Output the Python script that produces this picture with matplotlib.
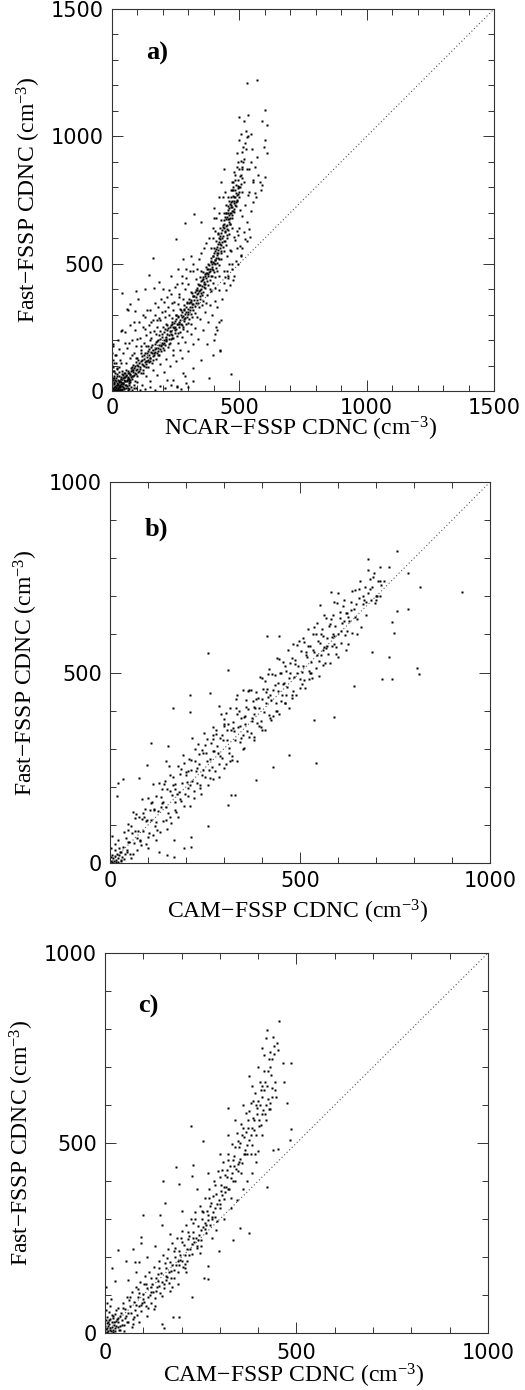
import numpy as np
import matplotlib
matplotlib.use('Agg')
import matplotlib.pyplot as plt
from matplotlib.ticker import MultipleLocator

plt.rcParams['mathtext.fontset'] = 'custom'
plt.rcParams['mathtext.rm'] = 'Liberation Serif'
plt.rcParams['mathtext.default'] = 'rm'

# ---------------- panel a) NCAR-FSSP vs Fast-FSSP ----------------
a_blob = [(2, 3), (5, 12), (8, 4), (10, 20), (12, 8), (15, 15), (18, 2), (20, 30), (22, 10), (25, 22),
          (28, 5), (30, 40), (32, 14), (35, 28), (38, 8), (40, 18), (42, 50), (45, 33), (48, 12), (50, 25),
          (3, 45), (6, 60), (9, 28), (14, 38), (16, 52), (19, 22), (24, 44), (27, 60), (31, 2), (34, 55),
          (37, 35), (41, 4), (44, 62), (47, 42), (52, 55), (55, 10), (58, 38), (60, 20), (62, 48), (65, 30),
          (68, 8), (4, 80), (7, 35), (11, 70), (13, 1), (17, 10), (21, 65), (26, 15), (29, 75), (33, 24),
          (36, 3), (39, 68), (43, 26), (46, 6), (53, 70), (57, 58), (63, 2), (66, 72), (70, 45), (1, 22),
          (2, 150), (3, 120), (1, 100), (5, 186), (35, 237), (4, 175), (10, 140), (6, 110), (23, 5), (9, 50),
          (3, 8), (6, 30), (9, 15), (12, 45), (15, 3), (18, 58), (21, 24), (24, 12), (27, 36), (30, 20),
          (33, 8), (36, 48), (40, 30), (44, 14), (48, 70), (51, 40), (54, 22), (57, 82), (61, 12), (64, 55),
          (67, 25), (72, 36), (75, 16), (78, 48), (85, 25), (88, 10), (92, 40), (5, 95), (8, 78), (14, 110),
          (18, 88), (28, 95), (11, 5), (4, 52)]

a_core = [(61, 52), (64, 78), (67, 40), (71, 66), (73, 92), (77, 58), (79, 81), (83, 103), (86, 64), (87, 90),
          (91, 71), (94, 112), (96, 84), (99, 58), (101, 99), (104, 122), (106, 80), (109, 93), (113, 118), (114, 70),
          (117, 136), (121, 101), (123, 84), (126, 127), (129, 112), (131, 150), (134, 96), (137, 133), (139, 119), (143, 158),
          (146, 112), (147, 141), (151, 129), (153, 171), (156, 148), (159, 110), (161, 162), (163, 138), (167, 185), (169, 152),
          (171, 127), (174, 170), (177, 197), (179, 158), (183, 180), (186, 143), (187, 206), (191, 176), (193, 159), (196, 214),
          (199, 185), (201, 167), (204, 202), (206, 230), (209, 181), (211, 213), (214, 196), (217, 238), (219, 171), (223, 220),
          (224, 203), (227, 250), (229, 187), (233, 236), (236, 219), (237, 262), (241, 208), (243, 247), (246, 229), (249, 276),
          (252, 242), (254, 217), (257, 265), (259, 290), (263, 251), (266, 232), (267, 278), (271, 300), (274, 261), (276, 289),
          (279, 244), (281, 318), (284, 276), (287, 302), (289, 262), (292, 331), (296, 290), (297, 312), (301, 347), (303, 281),
          (306, 330), (309, 359), (311, 304), (314, 342), (317, 372), (319, 319), (323, 356), (326, 389), (327, 334), (331, 371),
          (334, 403), (336, 346), (339, 385), (341, 418), (344, 363), (347, 398), (349, 432), (352, 378), (355, 412), (357, 446),
          (359, 389), (362, 428), (366, 461), (367, 403), (371, 442), (373, 478), (376, 418), (379, 458), (381, 494), (383, 437),
          (386, 472), (389, 510), (391, 452), (394, 488), (397, 529), (399, 466), (402, 504), (404, 548), (407, 482), (409, 523),
          (412, 566), (414, 501), (417, 543), (419, 587), (421, 520), (424, 562), (426, 610), (428, 541), (431, 586), (433, 632),
          (436, 565), (437, 607), (441, 655), (443, 588), (445, 629), (447, 676), (450, 611), (452, 652), (454, 698), (457, 634),
          (459, 676), (461, 720), (463, 656), (466, 698), (468, 742), (471, 680), (473, 722), (476, 765), (479, 702), (481, 746),
          (484, 788), (487, 728), (489, 770), (492, 752), (494, 806), (497, 781), (463, 735), (472, 790), (456, 712), (444, 684),
          (434, 650), (423, 596), (411, 541), (396, 505), (381, 466), (365, 421), (348, 384), (332, 356), (316, 331), (298, 302),
          (282, 281), (264, 262), (247, 240), (231, 222), (213, 205), (197, 189), (181, 168), (164, 149), (148, 131), (132, 118),
          (116, 105), (98, 88), (81, 76), (69, 62), (455, 675), (448, 700), (466, 730), (478, 740), (485, 760), (470, 705),
          (458, 690), (440, 640), (427, 575), (418, 555), (405, 515), (392, 480), (377, 450), (361, 410), (344, 372), (328, 345)]

a_core2 = [(22, 28), (27, 41), (31, 19), (36, 47), (42, 31), (47, 55), (51, 38), (56, 62), (59, 44), (63, 71),
           (68, 49), (74, 77), (76, 54), (82, 83), (84, 60), (89, 97), (93, 66), (97, 104), (102, 75), (107, 111),
           (111, 86), (118, 122), (124, 98), (127, 141), (133, 107), (136, 150), (141, 122), (144, 166), (150, 118), (154, 153),
           (158, 179), (165, 141), (168, 166), (173, 192), (178, 150), (182, 200), (189, 165), (194, 181), (198, 222), (203, 188),
           (208, 242), (212, 201), (216, 225), (221, 248), (226, 234), (231, 261), (234, 209), (239, 253), (244, 268), (248, 251),
           (253, 283), (258, 262), (261, 295), (265, 270), (270, 262), (273, 310), (277, 294), (283, 323), (286, 286), (291, 312),
           (294, 345), (299, 324), (304, 360), (307, 318), (312, 351), (315, 385), (320, 343), (324, 372), (329, 398), (333, 380),
           (337, 420), (342, 393), (346, 447), (350, 401), (353, 437), (358, 466), (361, 420), (364, 452), (369, 488), (372, 431),
           (375, 462), (378, 500), (384, 481), (387, 452), (390, 523), (393, 498), (395, 476), (399, 541), (403, 516), (406, 497),
           (410, 556), (413, 535), (416, 579), (418, 524), (422, 600), (425, 578), (427, 551), (430, 622), (432, 600), (435, 644),
           (438, 588), (440, 672), (442, 625), (446, 648), (449, 700), (451, 636), (453, 682), (456, 725), (458, 664), (460, 745),
           (462, 700), (465, 680), (467, 760), (469, 724), (472, 748), (474, 705), (477, 788), (480, 760), (483, 732), (486, 810),
           (488, 778), (491, 745), (493, 830), (496, 798), (499, 760), (503, 845), (506, 812), (509, 880), (512, 835), (498, 870),
           (507, 905)]

# wider spread around the main band
a_band = [(80, 95), (120, 70), (95, 130), (140, 95), (112, 150), (160, 120), (135, 175), (182, 140), (150, 200), (205, 160),
          (172, 225), (225, 185), (190, 235), (230, 205), (212, 265), (258, 228), (236, 285), (278, 250), (252, 300), (298, 268),
          (268, 322), (315, 290), (283, 338), (326, 305), (305, 350), (342, 330), (318, 372), (358, 352), (332, 395), (372, 378),
          (345, 418), (385, 400), (356, 440), (396, 425), (368, 462), (405, 448), (378, 480), (350, 470), (388, 505), (412, 470),
          (395, 530), (422, 495), (402, 560), (430, 520), (410, 590), (438, 548), (417, 618), (446, 575), (424, 640), (452, 600),
          (398, 600), (405, 630), (460, 615), (470, 640), (430, 670), (462, 655), (440, 700), (470, 690), (448, 730), (480, 715),
          (456, 760), (488, 742), (466, 790), (495, 775), (476, 820), (502, 800), (485, 850), (512, 870), (520, 910), (492, 935),
          (515, 960), (500, 985), (528, 1020), (520, 1060), (545, 1010), (540, 870), (552, 820), (335, 292), (352, 338), (368, 344),
          (390, 391), (405, 404), (420, 452), (440, 471), (452, 531), (465, 552), (478, 603), (490, 628), (503, 712), (522, 731),
          (534, 768), (312, 262), (296, 235), (276, 212), (258, 190), (240, 160)]

a_upper = [(20, 90), (30, 120), (40, 80), (45, 150), (55, 110), (60, 170), (70, 130), (80, 200), (85, 150), (90, 240),
           (95, 175), (100, 130), (110, 210), (115, 160), (120, 250), (125, 190), (130, 290), (135, 220), (140, 175), (145, 260),
           (150, 320), (155, 210), (160, 280), (165, 235), (170, 300), (175, 250), (180, 330), (185, 220), (190, 280), (195, 310),
           (200, 250), (205, 350), (210, 290), (215, 260), (220, 330), (225, 300), (230, 380), (235, 270), (240, 320), (245, 350),
           (250, 300), (255, 420), (260, 340), (265, 380), (270, 320), (275, 450), (280, 360), (285, 400), (290, 480), (295, 350),
           (300, 420), (310, 390), (320, 470), (330, 440), (160, 523), (144, 455), (166, 405), (41, 383), (94, 392), (58, 324),
           (90, 313), (250, 598), (287, 658), (322, 697), (311, 532), (351, 664), (415, 619), (340, 520), (360, 560), (380, 600),
           (395, 640), (410, 680), (400, 720), (420, 760), (430, 820), (440, 870), (445, 780), (260, 480), (230, 450), (200, 400),
           (120, 300), (70, 260), (25, 200), (39, 239), (63, 318), (50, 190), (105, 270), (150, 230), (185, 285), (215, 370),
           (15, 140), (28, 165), (37, 110), (52, 230), (66, 190), (78, 140), (88, 270), (100, 205), (113, 175), (128, 245),
           (138, 320), (152, 270), (168, 345), (178, 280), (193, 360), (208, 315), (222, 395), (236, 345), (248, 410), (262, 370),
           (276, 425), (292, 445), (305, 470), (318, 500), (332, 480), (348, 540), (370, 580), (388, 560), (402, 680), (422, 700),
           (436, 760), (72, 340), (104, 360), (186, 430), (280, 520), (130, 400)]

a_lower = [(80, 5), (95, 12), (110, 3), (130, 8), (150, 15), (170, 4), (190, 20), (210, 10), (230, 25), (255, 18),
           (270, 6), (240, 45), (215, 42), (254, 16), (290, 30), (320, 40), (285, 60), (300, 15),
           (97, 34), (118, 22), (133, 57), (149, 41), (162, 83), (176, 62), (188, 108), (203, 74), (214, 126), (227, 98),
           (239, 141), (251, 117), (266, 162), (273, 131), (288, 193), (297, 158), (309, 224), (318, 183), (327, 247), (338, 206),
           (346, 282), (359, 238), (366, 309), (377, 271), (386, 336), (394, 297), (403, 352), (413, 331), (421, 398), (432, 362),
           (438, 425), (447, 395), (456, 452), (463, 418), (471, 478), (478, 452), (486, 512), (493, 498), (502, 571), (508, 533),
           (517, 624), (523, 598), (531, 662), (538, 637), (546, 705), (553, 741), (561, 778), (497, 640), (512, 688), (483, 592),
           (494, 611), (468, 548), (458, 497), (451, 470), (442, 446), (421, 271), (405, 225), (425, 157), (372, 186), (381, 52),
           (467, 66), (477, 435), (320, 90), (350, 120), (280, 70), (410, 250), (400, 200), (430, 280), (395, 140), (412, 240),
           (424, 161), (542, 605), (530, 590), (510, 560), (490, 560), (505, 530), (470, 500), (455, 445)]

a_tail = [(500, 800), (505, 850), (510, 780), (515, 900), (520, 820), (525, 950), (530, 870), (535, 1000), (500, 1077), (536, 1084),
          (532, 1208), (569, 1221), (599, 1103), (591, 1061), (608, 1045), (601, 985), (608, 933), (595, 959), (530, 999), (523, 972),
          (545, 900), (560, 880), (575, 850), (580, 820), (585, 790), (570, 920), (555, 830), (540, 780), (565, 760), (510, 940),
          (490, 880), (485, 830), (475, 800), (495, 900), (505, 1010), (480, 860), (470, 820), (550, 950), (590, 810), (600, 840)]

# ---------------- panel b) CAM-FSSP vs Fast-FSSP ----------------
b_blob = [(2, 5), (5, 2), (8, 12), (10, 5), (12, 18), (15, 8), (18, 25), (20, 12), (22, 3), (25, 20),
          (28, 8), (30, 30), (6, 22), (14, 35), (3, 15), (24, 40), (32, 15), (35, 42), (40, 25), (9, 1),
          (17, 4), (27, 30), (38, 10), (12, 50), (20, 60), (45, 35), (48, 55), (5, 70), (2, 40), (30, 5)]

b_body = [(41, 66), (44, 29), (47, 102), (51, 56), (53, 23), (56, 96), (60, 135), (62, 52), (65, 85), (68, 128),
          (70, 35), (74, 84), (77, 122), (79, 59), (83, 168), (85, 115), (88, 83), (92, 142), (94, 49), (97, 112),
          (100, 170), (103, 78), (105, 140), (108, 113), (112, 207), (114, 74), (117, 142), (120, 175), (122, 107), (126, 136),
          (129, 209), (131, 81), (134, 174), (138, 158), (140, 110), (143, 208), (147, 147), (149, 194), (152, 132), (155, 255),
          (158, 188), (160, 105), (163, 178), (167, 227), (170, 160), (172, 207), (175, 135), (179, 254), (181, 186), (184, 234),
          (188, 163), (190, 210), (193, 283), (196, 151), (199, 239), (202, 212), (205, 175), (208, 273), (211, 206), (214, 244),
          (217, 327), (220, 170), (223, 268), (226, 241), (229, 209), (232, 312), (235, 260), (238, 198), (241, 296), (244, 244),
          (247, 342), (250, 225), (253, 288), (256, 326), (259, 204), (262, 272), (265, 315), (268, 253), (271, 356), (274, 294),
          (277, 242), (280, 340), (283, 288), (286, 226), (289, 329), (292, 392), (295, 275), (298, 323), (301, 366), (304, 259),
          (307, 322), (310, 365), (313, 303), (316, 406), (319, 349), (322, 282), (325, 370), (328, 323), (331, 406), (334, 269),
          (337, 357), (340, 400), (343, 318), (346, 381), (349, 454), (352, 302), (355, 365), (358, 428), (361, 346), (364, 404),
          (367, 332), (370, 455), (373, 373), (376, 426), (379, 324), (382, 407), (385, 450), (388, 368), (391, 406), (394, 489),
          (397, 357), (400, 430), (403, 458), (406, 396), (409, 349), (412, 457), (415, 495), (418, 388), (421, 441), (424, 429),
          (427, 497), (430, 385), (433, 468), (436, 421), (439, 539), (442, 452), (445, 390), (448, 498), (451, 426), (454, 529),
          (457, 472), (460, 420), (463, 503), (466, 461), (469, 559), (472, 407), (475, 500), (478, 538), (481, 451), (484, 489),
          (487, 532), (490, 440), (493, 573), (496, 516), (499, 484), (502, 557), (505, 470), (508, 518), (511, 581), (514, 459),
          (517, 547), (520, 615), (523, 503), (526, 571), (529, 529), (532, 487), (535, 600), (538, 553), (541, 511), (544, 629),
          (547, 582), (550, 490), (553, 578), (556, 546), (559, 614), (562, 567), (565, 525), (568, 643), (571, 591), (574, 549),
          (577, 622), (580, 525), (583, 593), (586, 651), (589, 574), (592, 622), (595, 550), (598, 683), (601, 601), (604, 644),
          (607, 577), (610, 630), (614, 674), (618, 598), (622, 657), (626, 576), (630, 635), (634, 684), (638, 603), (642, 667),
          (646, 716), (650, 640), (655, 695), (660, 620), (665, 680), (670, 725), (675, 650), (680, 710), (686, 691), (692, 752),
          (698, 683), (705, 740)]

b_fill = [(36, 81), (58, 78), (72, 67), (90, 120), (107, 157), (118, 98), (133, 148), (145, 215), (157, 122), (165, 205),
          (177, 182), (186, 246), (197, 182), (206, 241), (215, 215), (224, 299), (236, 206), (245, 290), (254, 269), (263, 223),
          (272, 337), (281, 306), (290, 280), (299, 379), (308, 348), (317, 267), (326, 346), (335, 390), (344, 329), (353, 383),
          (362, 452), (371, 341), (380, 390), (389, 434), (398, 373), (407, 477), (416, 436), (425, 375), (434, 494), (443, 473),
          (452, 442), (461, 516), (470, 485), (479, 434), (488, 523), (497, 582), (506, 501), (515, 555), (524, 484), (533, 558),
          (542, 602), (551, 531), (560, 595), (569, 564), (578, 628), (587, 602), (596, 566), (605, 660), (615, 635), (625, 610),
          (635, 665), (645, 645), (655, 720), (665, 700), (675, 685), (690, 725), (700, 700), (710, 740),
          (48, 88), (55, 12), (67, 118), (81, 47), (87, 132), (99, 68), (110, 160), (124, 88), (136, 195), (148, 112),
          (159, 230), (171, 140), (183, 168), (194, 262), (204, 198), (213, 270), (222, 190), (233, 285), (243, 230), (251, 310),
          (261, 245), (270, 295), (279, 350), (288, 260), (296, 335), (305, 395), (314, 290), (323, 355), (332, 430), (341, 360),
          (350, 335), (357, 410), (366, 455), (375, 380), (384, 430), (392, 360), (401, 485), (410, 420), (419, 510), (428, 455),
          (437, 400), (446, 535), (455, 470), (464, 440), (473, 525), (482, 575), (491, 500), (500, 460), (509, 590), (518, 540),
          (527, 500), (536, 620), (545, 545), (554, 600), (563, 650), (572, 570), (581, 640), (590, 595), (599, 710), (608, 610),
          (617, 690), (627, 645), (637, 715), (647, 680), (658, 740), (668, 690), (685, 720), (695, 760), (703, 700), (712, 730),
          (335, 440), (300, 360), (270, 325), (450, 500), (560, 560), (520, 570), (410, 450), (380, 410), (355, 385), (230, 250),
          (200, 230), (170, 195), (140, 160), (115, 140), (95, 110)]

b_outer = [(755, 818), (680, 797), (711, 776), (733, 776), (783, 760), (815, 725), (926, 712), (783, 668), (755, 662), (741, 633),
           (748, 604), (690, 553), (733, 540), (808, 511), (812, 495), (716, 484), (742, 484), (642, 465), (590, 384), (537, 376),
           (542, 262), (428, 251), (384, 217), (470, 284), (412, 596), (444, 596), (259, 552), (310, 508), (210, 441), (210, 397),
           (167, 406), (262, 446), (286, 413), (107, 314), (98, 258), (153, 308), (147, 269), (35, 220), (20, 211), (76, 223),
           (19, 175), (259, 96), (212, 68), (214, 42), (195, 39), (169, 16), (169, 61), (310, 153), (319, 179), (328, 179),
           (583, 570), (625, 655), (590, 684), (581, 712), (553, 676), (680, 770), (685, 745), (700, 690), (710, 700), (720, 740),
           (650, 600), (620, 560), (600, 540), (560, 520), (530, 500), (510, 480), (480, 440), (460, 420), (440, 400), (420, 380),
           (400, 350), (380, 330), (350, 300), (320, 270), (300, 250), (270, 220), (240, 180), (210, 150), (180, 120), (150, 90),
           (120, 60), (100, 40), (80, 60), (60, 25), (150, 20), (130, 30)]

# ---------------- panel c) CAM-FSSP vs Fast-FSSP ----------------
c_blob = [(1, 3), (3, 10), (5, 2), (7, 18), (9, 6), (11, 25), (13, 12), (15, 4), (17, 30), (19, 15),
          (21, 8), (23, 22), (2, 35), (6, 42), (10, 55), (14, 38), (18, 48), (25, 5), (28, 18), (31, 38),
          (35, 15), (3, 60), (8, 28), (12, 70), (20, 2), (27, 50), (33, 65), (38, 45), (40, 8), (45, 20),
          (4, 80), (16, 90), (2, 120), (1, 18), (29, 32), (6, 12), (10, 33), (14, 7), (4, 26), (22, 40)]

c_body = [(22, 45), (26, 12), (30, 60), (34, 28), (37, 8), (41, 52), (44, 35), (47, 78), (50, 20), (53, 62),
          (56, 44), (58, 95), (61, 30), (64, 70), (67, 52), (70, 108), (72, 38), (75, 82), (78, 60), (81, 120),
          (84, 48), (86, 95), (89, 72), (92, 135), (95, 58), (98, 102), (101, 82), (104, 150), (107, 70), (110, 118),
          (113, 95), (116, 160), (119, 78), (122, 130), (125, 108), (128, 175), (131, 92), (134, 145), (137, 120), (140, 190),
          (143, 105), (146, 158), (149, 135), (152, 205), (155, 118), (158, 172), (161, 148), (164, 220), (167, 132), (170, 188),
          (173, 162), (176, 238), (179, 145), (182, 200), (185, 178), (188, 250), (191, 160), (194, 215), (197, 192), (200, 268),
          (203, 175), (206, 232), (209, 205), (212, 285), (215, 190), (218, 248), (221, 222), (224, 300), (227, 208), (230, 265),
          (233, 240), (236, 318), (239, 225), (242, 282), (245, 258), (248, 335), (251, 245), (254, 300), (257, 278), (260, 355),
          (263, 262), (266, 320), (269, 298), (272, 378), (275, 285), (278, 342), (281, 318), (284, 400), (287, 305), (290, 365),
          (293, 340), (296, 425), (299, 330), (302, 390), (305, 362), (308, 450), (311, 352), (314, 415), (317, 385), (320, 472),
          (323, 378), (326, 440), (329, 408), (332, 498), (335, 400), (338, 465), (341, 432), (344, 525), (347, 425), (350, 490),
          (353, 458), (356, 550), (359, 448), (362, 515), (365, 482), (368, 578), (371, 472), (374, 540), (377, 508), (380, 605),
          (383, 495), (386, 565), (389, 535), (392, 632), (395, 520), (398, 592), (401, 560), (404, 660), (407, 548), (410, 620),
          (413, 588), (416, 690), (419, 575), (422, 650), (425, 615), (428, 720), (431, 605), (434, 680), (437, 645), (440, 755)]

c_fill = [(24, 30), (39, 18), (52, 40), (63, 88), (74, 25), (88, 105), (97, 80), (108, 130), (118, 100), (127, 62),
          (138, 155), (148, 98), (157, 185), (166, 160), (175, 120), (184, 225), (193, 178), (202, 240), (211, 160), (220, 255),
          (229, 290), (238, 250), (247, 210), (256, 318), (265, 285), (274, 335), (283, 360), (292, 295), (301, 410), (310, 385),
          (319, 430), (328, 355), (337, 440), (346, 505), (355, 420), (364, 470), (373, 560), (382, 520), (391, 470), (400, 610),
          (409, 575), (418, 660), (427, 590), (436, 720), (445, 640), (350, 450), (360, 540), (370, 495), (390, 560), (405, 600),
          (415, 640), (380, 470), (340, 400), (320, 380), (300, 340), (280, 300), (260, 275), (240, 230), (220, 205), (200, 190),
          (180, 165), (160, 140), (140, 125), (120, 108), (100, 90), (80, 75), (60, 52),
          (33, 40), (46, 65), (57, 30), (66, 95), (77, 42), (85, 115), (94, 75), (103, 128), (112, 66), (121, 145),
          (132, 110), (142, 170), (153, 128), (163, 198), (172, 145), (181, 215), (190, 190), (199, 250), (208, 182), (217, 265),
          (226, 235), (235, 300), (244, 245), (253, 320), (262, 290), (271, 355), (279, 305), (288, 390), (297, 350), (306, 430),
          (314, 372), (322, 455), (331, 420), (339, 490), (348, 445), (357, 520), (366, 470), (375, 585), (384, 540), (393, 600),
          (402, 545), (411, 650), (421, 600), (430, 700), (443, 660), (452, 745), (425, 690), (408, 640), (396, 575), (387, 610),
          (367, 530), (352, 500), (334, 455), (318, 410), (303, 375), (286, 330), (268, 310), (250, 270), (231, 250), (213, 220),
          (196, 205), (176, 180), (158, 150), (139, 138), (119, 120)]

c_outer = [(455, 820), (422, 798), (439, 780), (420, 775), (450, 763), (431, 740), (441, 733), (414, 732), (466, 711), (486, 711),
           (376, 676), (468, 661), (446, 622), (436, 622), (474, 604), (485, 536), (484, 508), (453, 484), (438, 482), (422, 383),
           (377, 263), (335, 245), (352, 276), (320, 593), (224, 546), (256, 505), (230, 442), (185, 436), (193, 392), (226, 413),
           (152, 400), (156, 343), (143, 311), (100, 311), (148, 285), (95, 252), (95, 236), (73, 222), (34, 219), (56, 190),
           (78, 187), (89, 187), (25, 136), (17, 171), (227, 95), (269, 143), (270, 177), (258, 146), (178, 41), (194, 41),
           (149, 25), (155, 13), (298, 216), (400, 480), (410, 520), (420, 560), (430, 590), (395, 450), (385, 420), (370, 400),
           (360, 380), (345, 350), (330, 330), (310, 300), (290, 270), (280, 250), (250, 230), (210, 170), (190, 130), (170, 110),
           (130, 70), (110, 45), (90, 30), (70, 15), (50, 5), (60, 140), (80, 160), (110, 200), (130, 230), (170, 260),
           (200, 320), (240, 380), (270, 420), (300, 470), (320, 520), (340, 560), (360, 600), (385, 650), (400, 700), (410, 750)]

panel_letters = ['a)', 'b)', 'c)']
x_titles = ['NCAR\u2212FSSP CDNC (cm$^{-3}$)', 'CAM\u2212FSSP CDNC (cm$^{-3}$)', 'CAM\u2212FSSP CDNC (cm$^{-3}$)']
y_title = 'Fast\u2212FSSP CDNC (cm$^{-3}$)'
axis_max = [1500, 1000, 1000]
major_step = [500, 500, 500]

panels = [a_blob + a_core + a_core2 + a_band + a_upper + a_lower + a_tail,
          b_blob + b_body + b_fill + b_outer,
          c_blob + c_body + c_fill + c_outer]

# axes boxes in figure fractions [left, bottom, width, height]
boxes = [[0.2133, 0.7187, 0.7276, 0.2748],
         [0.2095, 0.3791, 0.7238, 0.2741],
         [0.2000, 0.0410, 0.7295, 0.2734]]
ylab_x = [0.055, 0.0495, 0.042]
xlab_base = [1 - 436 / 1390, 1 - 919 / 1390, 1 - 1383 / 1390]
xtick_pad = [5, 6, 7]
letter_pos = [(0.089, 0.885), (0.092, 0.877), (0.086, 0.858)]

fig = plt.figure(figsize=(5.25, 13.9), dpi=100)
serif = 'Liberation Serif'

for i in range(3):
    ax = fig.add_axes(boxes[i])
    pts = np.array(panels[i])
    top = axis_max[i]
    ax.plot([0, top], [0, top], color='#555555', lw=0.8, linestyle=(0, (1, 2.2)))
    ax.plot(pts[:, 0], pts[:, 1], 's', ms=1.75, color='black', mec='none')
    ax.set_xlim(0, top)
    ax.set_ylim(0, top)
    ax.xaxis.set_major_locator(MultipleLocator(major_step[i]))
    ax.yaxis.set_major_locator(MultipleLocator(major_step[i]))
    ax.xaxis.set_minor_locator(MultipleLocator(100))
    ax.yaxis.set_minor_locator(MultipleLocator(100))
    ax.tick_params(which='both', direction='in', top=True, right=True, width=0.7, colors='#333333')
    ax.tick_params(which='major', length=8, labelsize=15, labelcolor='black')
    ax.tick_params(which='minor', length=4)
    ax.tick_params(axis='y', which='major', pad=6)
    ax.tick_params(axis='x', which='major', pad=xtick_pad[i])
    for lab in ax.get_xticklabels() + ax.get_yticklabels():
        lab.set_family('DejaVu Sans')
    for sp in ax.spines.values():
        sp.set_linewidth(0.8)
        sp.set_color('#333333')
    ax.text(letter_pos[i][0], letter_pos[i][1], panel_letters[i], transform=ax.transAxes,
            fontsize=19, fontweight='bold', family=serif, ha='left', va='center')
    b = boxes[i]
    fig.text(ylab_x[i], b[1] + b[3] / 2, y_title, rotation=90, ha='center', va='center',
             fontsize=17, family=serif)
    fig.text(b[0] + b[2] / 2 - 0.005, xlab_base[i], x_titles[i], ha='center', va='baseline',
             fontsize=17, family=serif)

fig.savefig('out.png', dpi=100)
